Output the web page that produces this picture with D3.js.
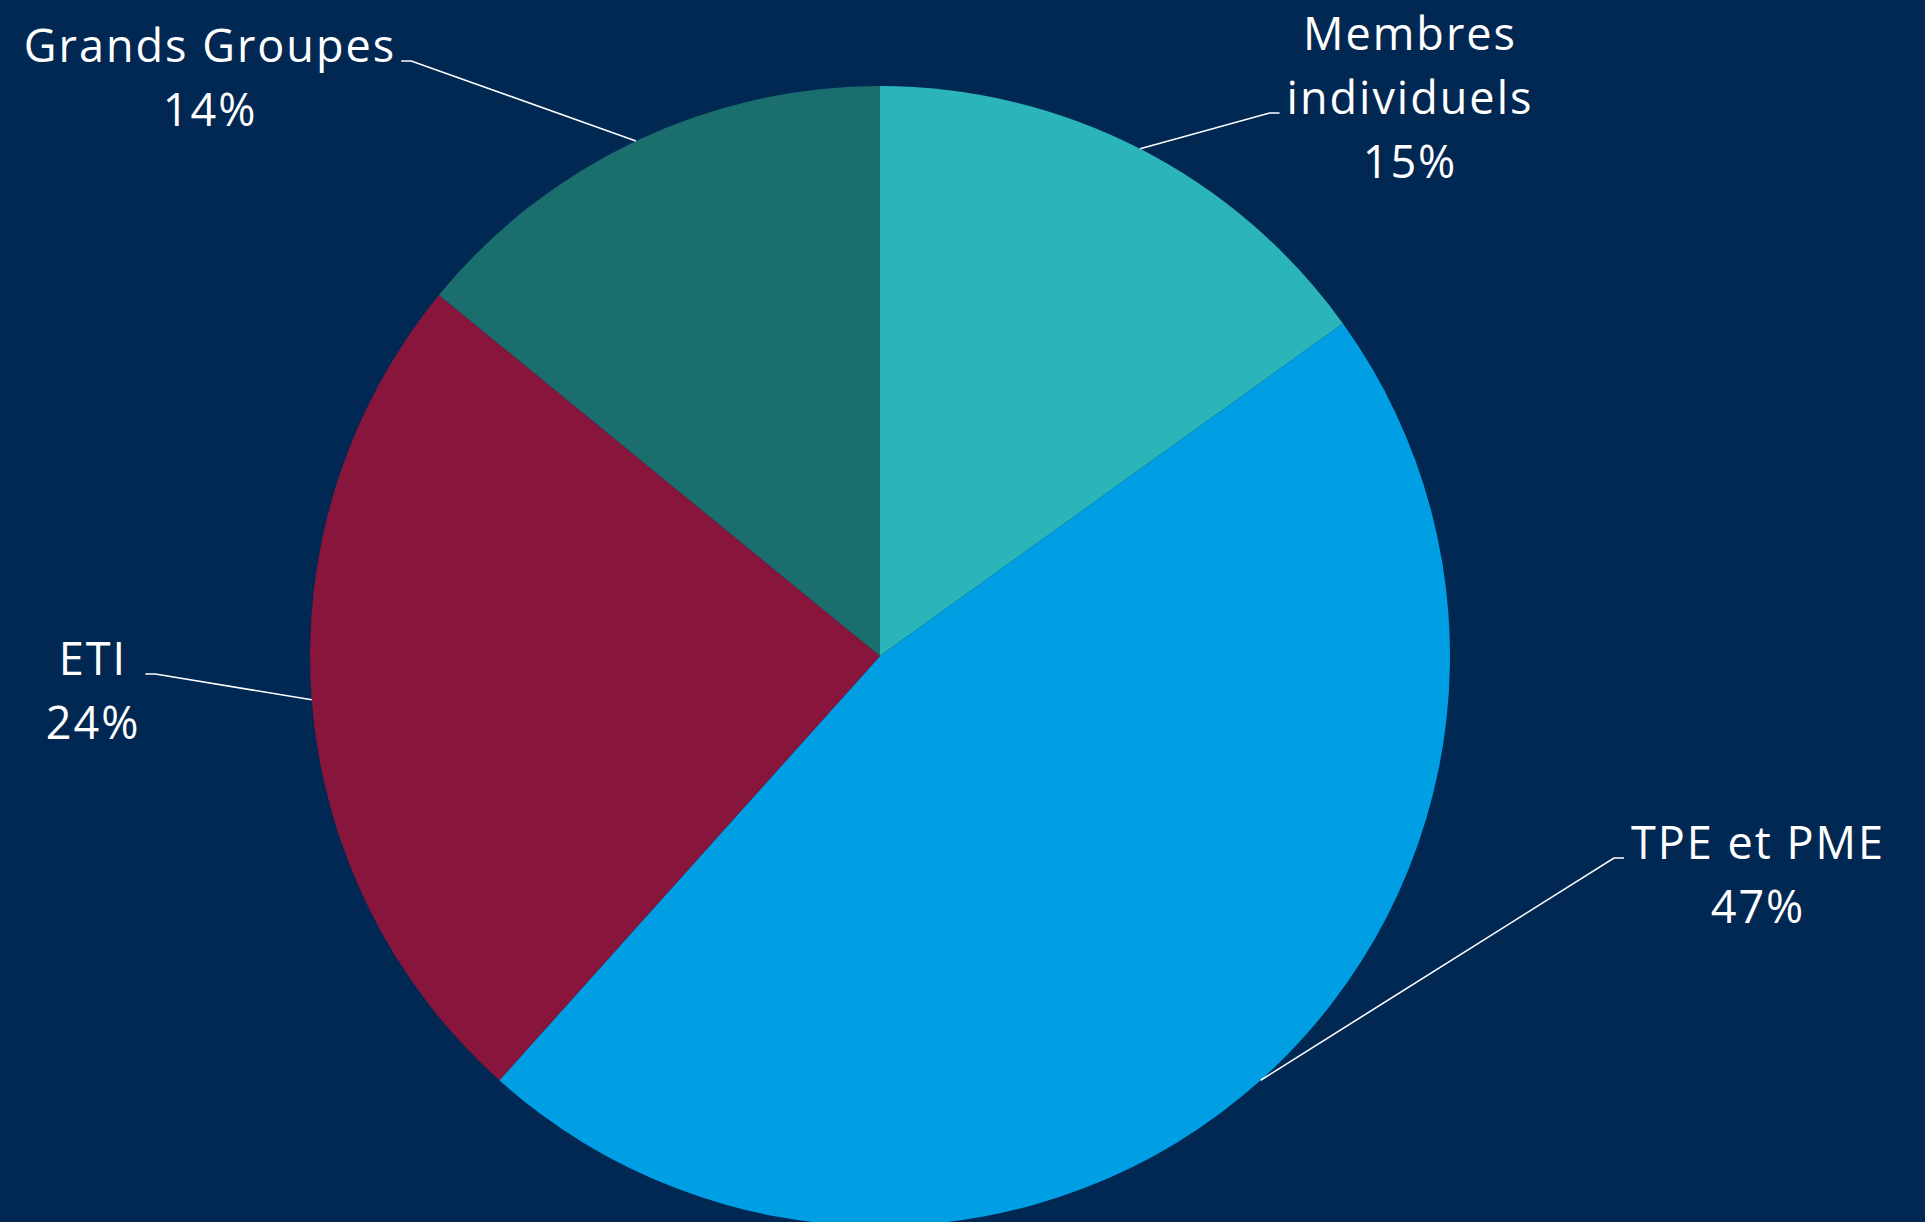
<!DOCTYPE html>
<html>
<head>
<meta charset="utf-8">
<script src="https://cdn.jsdelivr.net/npm/d3@7"></script>
<style>
  html, body { margin: 0; padding: 0; background: #012852; }
  svg { display: block; }
</style>
</head>
<body>
<div id="pie"></div>
<script>
// categories and values, clockwise from 12 o'clock
var categories = ["Membres individuels", "TPE et PME", "ETI", "Grands Groupes"];
var values = [15.1, 46.6, 24.3, 14.1];
var labelLines = [["Membres", "individuels"], ["TPE et PME"], ["ETI"], ["Grands Groupes"]];
var colors = ["#2BB5B8", "#009FE3", "#87153C", "#1A6E6E"];

// where each label block sits (centre x, first baseline), offset from the pie centre
var labelLayout = [
    { x: 529, y: -606 },
    { x: 877, y: 203 },
    { x: -788, y: 19 },
    { x: -671, y: -594 }
];

var width = 1925,
    height = 1222,
    cx = 880,
    cy = 656,
    radius = 570,
    lineGap = 64,
    spacing = 2;

var svg = d3.select("#pie")
    .append("svg")
    .attr("width", width)
    .attr("height", height);

svg.append("rect")
    .attr("width", width)
    .attr("height", height)
    .attr("fill", "#012852");

var g = svg.append("g")
    .attr("transform", "translate(" + cx + "," + cy + ")");

var total = d3.sum(values);
var data = categories.map(function (c, i) {
    return { name: c, value: values[i], lines: labelLines[i], color: colors[i], pos: labelLayout[i] };
});

var pie = d3.pie()
    .sort(null)
    .value(function (d) { return d.value; });

var arc = d3.arc()
    .innerRadius(0)
    .outerRadius(radius);

// point on the rim at the middle of each slice
var rim = d3.arc()
    .innerRadius(radius)
    .outerRadius(radius);

var arcs = pie(data);

g.selectAll("path.slice")
    .data(arcs)
    .enter()
    .append("path")
    .attr("class", "slice")
    .attr("d", arc)
    .attr("fill", function (d) { return d.data.color; });

var fmt = d3.format(".0%");

arcs.forEach(function (d) {
    var lines = d.data.lines.concat([fmt(d.data.value / total)]);
    var lab = g.append("text")
        .attr("font-family", "'Open Sans', sans-serif")
        .attr("font-size", 45)
        .attr("letter-spacing", spacing)
        .attr("fill", "#ffffff")
        .attr("text-anchor", "middle");

    lines.forEach(function (t, k) {
        lab.append("tspan")
            .attr("x", d.data.pos.x + spacing / 2)
            .attr("y", d.data.pos.y + k * lineGap)
            .text(t);
    });

    // widest line decides where the leader line meets the label
    var w = d3.max(lab.selectAll("tspan").nodes(), function (n) { return n.getComputedTextLength(); });
    var p = rim.centroid(d);
    var side = d.data.pos.x < 0 ? 1 : -1;
    var ex = d.data.pos.x + side * (w / 2 + 6);
    var ey = d.data.pos.y + Math.floor((lines.length - 1) / 2) * lineGap - 1;

    g.append("polyline")
        .attr("points", [[ex, ey], [ex + side * 10, ey], p].map(function (q) { return q.join(","); }).join(" "))
        .attr("fill", "none")
        .attr("stroke", "#ffffff")
        .attr("stroke-width", 1.6);
});
</script>
</body>
</html>
